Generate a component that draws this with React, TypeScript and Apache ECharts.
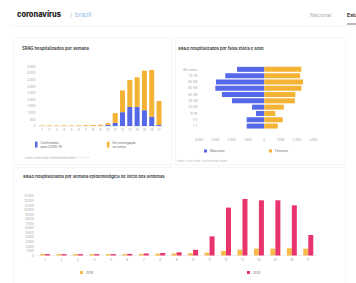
import React, { useEffect, useRef } from "react";
import * as echarts from "echarts";

const weeks = ["1", "2", "3", "4", "5", "6", "7", "8", "9", "10", "11", "12", "13", "14", "15", "16", "17"];
const weeklyConfirmed = [0, 0, 0, 0, 0, 0, 0, 0, 20, 100, 230, 1050, 1450, 1450, 1200, 700, 80];
const weeklyOther = [40, 50, 40, 50, 40, 50, 60, 70, 80, 120, 750, 1650, 2050, 2250, 3000, 3550, 1820];

const ageGroups = ["< 1", "1-5", "6-19", "20-29", "30-39", "40-49", "50-59", "60-69", "70-79", "80 e mais"];
const male = [1080, 1080, 510, 750, 1980, 2600, 3000, 2960, 2390, 1670];
const female = [820, 1130, 670, 1190, 1870, 1900, 2270, 2370, 2190, 2270];

const cases2019 = [300, 300, 300, 300, 300, 300, 350, 400, 450, 500, 600, 1000, 1300, 1500, 1500, 1600, 1500];
const cases2020 = [300, 300, 300, 300, 300, 350, 450, 550, 700, 1250, 4200, 10500, 12400, 12100, 12100, 11000, 4500];

const BLUE = "#5468e8";
const YELLOW = "#f5b335";
const PINK = "#e8336d";
const YELLOW2 = "#f7bb4a";
const FONT = "Inter, 'Noto Sans', sans-serif";

const fmt = (v: number) => String(Math.abs(v)).replace(/\B(?=(\d{3})+(?!\d))/g, ".");

const axisLabel = (extra: any = {}) => ({
  fontSize: 3,
  color: "#9a9a9a",
  fontFamily: FONT,
  ...extra,
});

const singleLegend = (name: string, left: number, top: number, w: number, h: number, lines = false) => ({
  data: [name],
  left,
  top,
  padding: 0,
  itemWidth: w,
  itemHeight: h,
  itemGap: 0,
  icon: "rect",
  selectedMode: false,
  textStyle: {
    fontSize: 3,
    color: "#666",
    fontFamily: FONT,
    lineHeight: lines ? 3.6 : 4,
    padding: [0, 0, 0, -2],
  },
});

export default function App() {
  const ref = useRef<HTMLDivElement>(null);
  useEffect(() => {
    if (!ref.current) return;
    const chart = echarts.init(ref.current, undefined, { renderer: "svg" });
    const option: any = {
      animation: false,
      backgroundColor: "#fff",
      textStyle: { fontFamily: FONT },
      title: [
        { text: "SRAG hospitalizados por semana", left: 22, top: 46, padding: 0, textStyle: { fontSize: 4.2, fontWeight: 600, color: "#333", fontFamily: FONT } },
        { text: "SRAG hospitalizados por faixa etária e sexo", left: 178, top: 46, padding: 0, textStyle: { fontSize: 4.1, fontWeight: 600, color: "#333", fontFamily: FONT } },
        { text: "SRAG hospitalizados por semana epidemiológica de início dos sintomas", left: 23, top: 174.5, padding: 0, textStyle: { fontSize: 4.1, fontWeight: 600, color: "#333", fontFamily: FONT } },
      ],
      legend: [
        { ...singleLegend("Confirmados COVID-19", 35, 141, 2.5, 6, true), formatter: () => "Confirmados\npara COVID-19" },
        { ...singleLegend("Em investigação", 107, 141, 2.5, 6, true), formatter: () => "Em investigação\nou outros" },
        singleLegend("Masculino", 204, 149, 3, 3),
        singleLegend("Feminino", 269, 149, 3, 3),
        singleLegend("2019", 80, 270.5, 3, 3),
        singleLegend("2020", 247, 270.5, 3, 3),
      ],
      grid: [
        { left: 38.4, top: 66.7, width: 124.3, height: 59.3 },
        { left: 199, top: 66.2, width: 114.3, height: 63 },
        { left: 36.8, top: 196.2, width: 279.7, height: 59.3 },
      ],
      xAxis: [
        {
          type: "category", gridIndex: 0, data: weeks,
          axisTick: { show: false },
          axisLine: { lineStyle: { color: "#e2e2e2", width: 0.5 } },
          axisLabel: axisLabel({ interval: 0, margin: 2 }),
        },
        {
          type: "value", gridIndex: 1, min: -4000, max: 3000, interval: 1000,
          splitLine: { show: false },
          axisLine: { show: false },
          axisTick: { show: false },
          axisLabel: axisLabel({ margin: 9.5, formatter: (v: number) => fmt(v) }),
        },
        {
          type: "category", gridIndex: 2, data: weeks,
          axisTick: { show: false },
          axisLine: { lineStyle: { color: "#e2e2e2", width: 0.5 } },
          axisLabel: axisLabel({ interval: 0, margin: 3 }),
        },
      ],
      yAxis: [
        {
          type: "value", gridIndex: 0, min: 0, max: 4500, interval: 500,
          splitLine: { show: false },
          axisLabel: axisLabel({ margin: 3, formatter: (v: number) => fmt(v) }),
        },
        {
          type: "category", gridIndex: 1, data: ageGroups,
          axisLine: { show: false },
          axisTick: { show: false },
          axisLabel: axisLabel({ margin: 2, interval: 0 }),
        },
        {
          type: "value", gridIndex: 2, min: 0, max: 13000, interval: 1000,
          splitLine: { show: false },
          axisLabel: axisLabel({ margin: 3, formatter: (v: number) => fmt(v) }),
        },
      ],
      series: [
        { name: "Confirmados COVID-19", type: "bar", xAxisIndex: 0, yAxisIndex: 0, stack: "w", barWidth: 5, data: weeklyConfirmed, itemStyle: { color: BLUE } },
        { name: "Em investigação", type: "bar", xAxisIndex: 0, yAxisIndex: 0, stack: "w", barWidth: 5, data: weeklyOther, itemStyle: { color: YELLOW } },
        { name: "Masculino", type: "bar", xAxisIndex: 1, yAxisIndex: 1, barWidth: 5, barGap: "-100%", data: male.map((v) => -v), itemStyle: { color: BLUE } },
        { name: "Feminino", type: "bar", xAxisIndex: 1, yAxisIndex: 1, barWidth: 5, barGap: "-100%", data: female, itemStyle: { color: YELLOW } },
        { name: "2019", type: "bar", xAxisIndex: 2, yAxisIndex: 2, barWidth: 5, barGap: "0%", data: cases2019, itemStyle: { color: YELLOW2 } },
        { name: "2020", type: "bar", xAxisIndex: 2, yAxisIndex: 2, barWidth: 5, barGap: "0%", data: cases2020, itemStyle: { color: PINK } },
      ],
      graphic: [
        { type: "rect", z: 0, shape: { x: 14, y: 38, width: 158, height: 127 }, style: { fill: "none", stroke: "#f0f0f0", lineWidth: 0.6 } },
        { type: "rect", z: 0, shape: { x: 175.5, y: 38, width: 170, height: 127 }, style: { fill: "none", stroke: "#f0f0f0", lineWidth: 0.6 } },
        { type: "rect", z: 0, shape: { x: 14, y: 167.5, width: 331.5, height: 120 }, style: { fill: "none", stroke: "#f0f0f0", lineWidth: 0.6 } },
        { type: "line", shape: { x1: 10, y1: 26, x2: 356, y2: 26 }, style: { stroke: "#ececec", lineWidth: 0.6 } },
        { type: "text", style: { text: "coronavírus", x: 17, y: 14.7, fontSize: 7.4, fontWeight: 800, fill: "#222", fontFamily: FONT, verticalAlign: "middle" } },
        { type: "text", style: { text: "/", x: 70, y: 14.7, fontSize: 6, fill: "#bbb", fontFamily: FONT, verticalAlign: "middle" } },
        { type: "text", style: { text: "brasil", x: 75, y: 14.7, fontSize: 6.4, fill: "#8fbbe6", fontFamily: FONT, verticalAlign: "middle" } },
        { type: "text", style: { text: "Nacional", x: 310, y: 14.5, fontSize: 5.2, fill: "#aaa", fontFamily: FONT, verticalAlign: "middle" } },
        { type: "text", style: { text: "Estadual", x: 347, y: 14.5, fontSize: 5.2, fontWeight: 700, fill: "#333", fontFamily: FONT, verticalAlign: "middle" } },
        { type: "line", shape: { x1: 347, y1: 24, x2: 356, y2: 24 }, style: { stroke: "#555", lineWidth: 0.8 } },
        { type: "line", shape: { x1: 25, y1: 157.3, x2: 90, y2: 157.3 }, style: { stroke: "#e4e4e4", lineWidth: 0.8 } },
        { type: "text", style: { text: "Fonte: SIVEP-Gripe / Ministério da Saúde", x: 25, y: 157.3, fontSize: 2.6, fill: "#b5b5b5", fontFamily: FONT, verticalAlign: "middle" } },
        { type: "text", style: { text: "Fonte: SIVEP-Gripe / Ministério da Saúde", x: 177, y: 160.7, fontSize: 2.6, fill: "#b5b5b5", fontFamily: FONT, verticalAlign: "middle" } },
      ],
    };
    chart.setOption(option);
    return () => chart.dispose();
  }, []);
  return (
    <div
      ref={ref}
      style={{ position: "fixed", left: 0, top: 0, width: 356, height: 283, background: "#fff" }}
    />
  );
}
